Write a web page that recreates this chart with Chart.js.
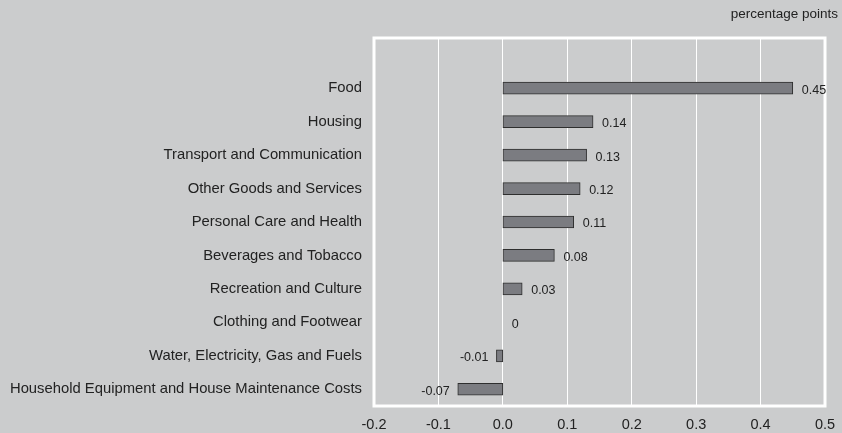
<!DOCTYPE html>
<html>
<head>
<meta charset="utf-8">
<script src="https://cdn.jsdelivr.net/npm/chart.js@4/dist/chart.umd.min.js"></script>
<style>
  html, body { margin: 0; padding: 0; background: #cbcccd; }
  #wrap { width: 842px; height: 433px; position: relative; }
</style>
</head>
<body>
<div id="wrap"><canvas id="contribChart"></canvas></div>
<script>
// categories, top to bottom (first slot is left empty in the original)
const categories = [
    '',
    'Food',
    'Housing',
    'Transport and Communication',
    'Other Goods and Services',
    'Personal Care and Health',
    'Beverages and Tobacco',
    'Recreation and Culture',
    'Clothing and Footwear',
    'Water, Electricity, Gas and Fuels',
    'Household Equipment and House Maintenance Costs'
];
const contributions = [null, 0.45, 0.14, 0.13, 0.12, 0.11, 0.08, 0.03, 0, -0.01, -0.07];
const xMin = -0.2;
const xMax = 0.5;
const unitLabel = 'percentage points';

const fontFamily = '"Liberation Sans", Arial, sans-serif';

// draws the white frame, value labels and the unit text
const decorations = {
    id: 'decorations',
    afterDatasetsDraw(chart) {
        const ctx = chart.ctx;
        const area = chart.chartArea;
        const xScale = chart.scales.x;
        const yScale = chart.scales.y;

        ctx.save();
        ctx.strokeStyle = '#ffffff';
        ctx.lineWidth = 3;
        ctx.strokeRect(area.left, area.top, area.right - area.left, area.bottom - area.top);

        ctx.fillStyle = '#222222';
        ctx.font = '12.5px ' + fontFamily;
        ctx.textBaseline = 'middle';
        contributions.forEach(function(v, i) {
            if (v === null) return;
            const x = xScale.getPixelForValue(v);
            const y = yScale.getPixelForValue(i) + 2;
            if (v < 0) {
                ctx.textAlign = 'right';
                ctx.fillText(String(v), x - 8, y);
            } else {
                ctx.textAlign = 'left';
                ctx.fillText(String(v), x + 9, y);
            }
        });

        ctx.font = '13.5px ' + fontFamily;
        ctx.textAlign = 'right';
        ctx.fillText(unitLabel, 838, 14);
        ctx.restore();
    }
};

document.addEventListener('DOMContentLoaded', function() {
    const ctx = document.getElementById('contribChart').getContext('2d');

    new Chart(ctx, {
        type: 'bar',
        data: {
            labels: categories,
            datasets: [{
                data: contributions,
                backgroundColor: '#7b7c81',
                borderColor: '#2e2e2e',
                borderWidth: 1,
                borderSkipped: false,
                barThickness: 12
            }]
        },
        options: {
            indexAxis: 'y',
            responsive: true,
            maintainAspectRatio: false,
            animation: false,
            layout: {
                padding: { left: 0, right: 17, top: 38, bottom: 0 }
            },
            scales: {
                x: {
                    min: xMin,
                    max: xMax,
                    afterFit: function(scale) {
                        scale.height = 27;
                        scale.paddingRight = 0;
                        scale.paddingLeft = 0;
                    },
                    border: { display: false },
                    grid: {
                        color: '#ffffff',
                        lineWidth: function(c) { return c.tick && c.tick.value === 0 ? 2.5 : 1; },
                        drawTicks: false
                    },
                    ticks: {
                        stepSize: 0.1,
                        padding: 10,
                        color: '#222222',
                        font: { family: fontFamily, size: 14.5 },
                        callback: function(v) {
                            const n = Math.abs(v) < 1e-9 ? 0 : Number(v);
                            return n.toFixed(1);
                        }
                    }
                },
                y: {
                    afterFit: function(scale) { scale.width = 374; },
                    border: { display: false },
                    grid: { display: false, drawTicks: false },
                    ticks: {
                        padding: 12,
                        color: '#222222',
                        font: { family: fontFamily, size: 14.8 }
                    }
                }
            },
            plugins: {
                legend: { display: false },
                tooltip: { enabled: false }
            }
        },
        plugins: [decorations]
    });
});
</script>
</body>
</html>
